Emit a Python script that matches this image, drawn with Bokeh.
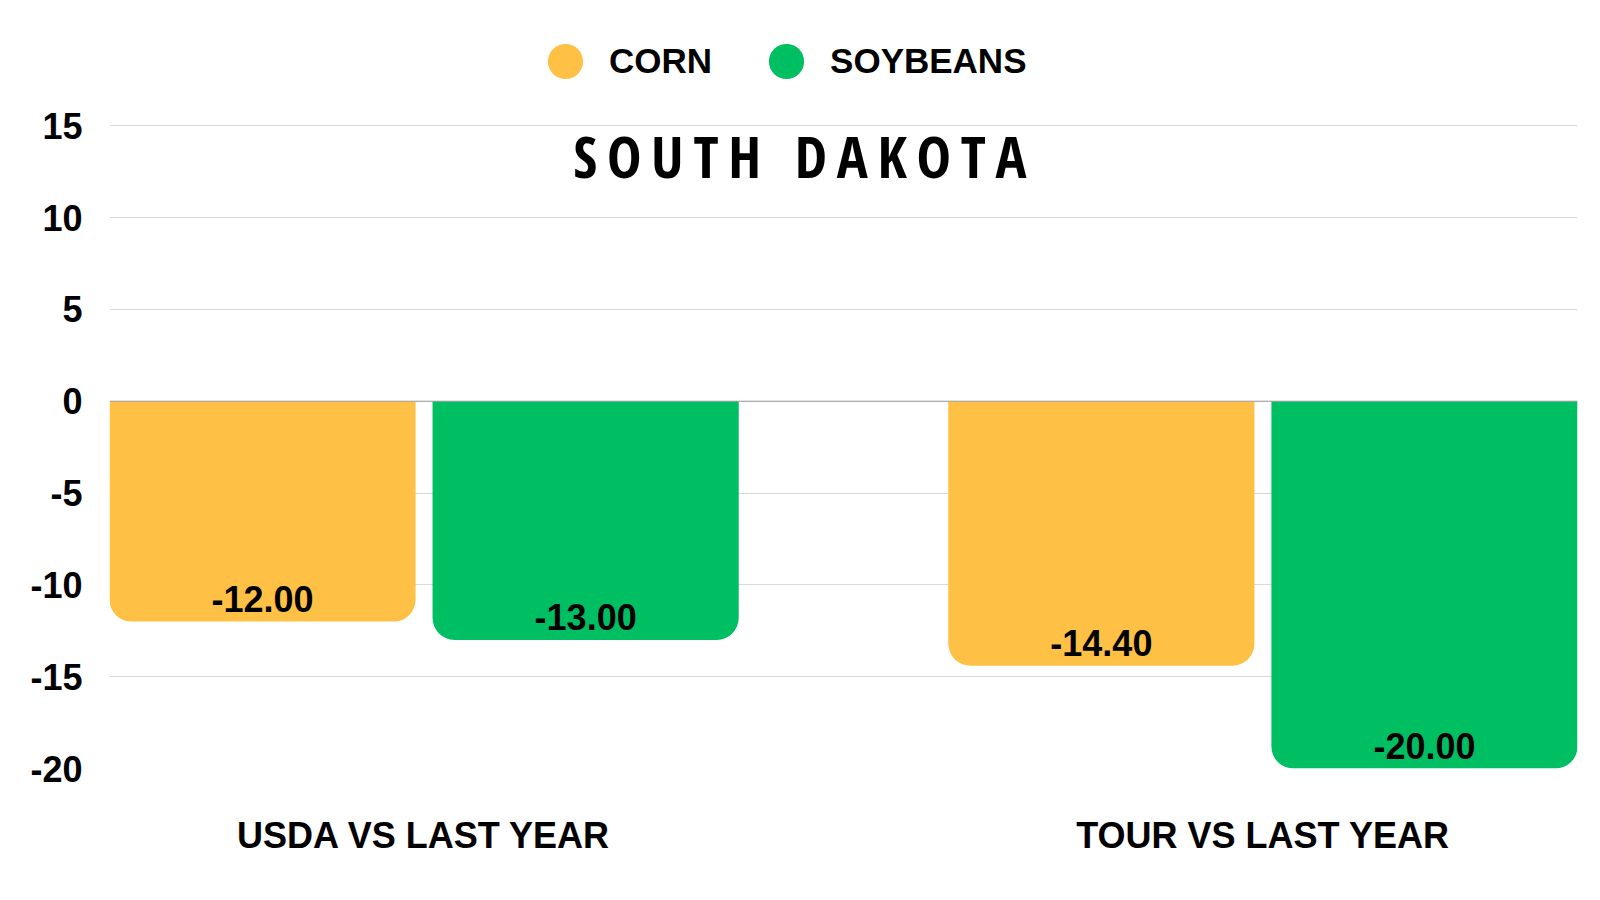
import numpy as np
from bokeh.plotting import figure
from bokeh.models import (ColumnDataSource, Range1d, FixedTicker, Span, Label,
                          Legend, LegendItem)
from bokeh.core.properties import value
from bokeh.embed import file_html
from bokeh.resources import INLINE

# ---- data ----
categories = ["USDA VS LAST YEAR", "TOUR VS LAST YEAR"]
corn = [-12.00, -14.40]
soybeans = [-13.00, -20.00]
series_names = ["CORN", "SOYBEANS"]
y_ticks = [-20, -15, -10, -5, 0, 5, 10, 15]
title_text = "SOUTH DAKOTA"

CORN_COLOR = "#FFC145"
SOY_COLOR = "#00BF63"
FONT = "Liberation Sans"
TITLE_FONT = "'Open Sans Condensed', 'Roboto Condensed', 'DejaVu Sans Condensed', Roboto, sans-serif"

centers = np.arange(len(categories)) + 0.5
offset = 0.1926
bar_w = 0.365

p = figure(width=1584, height=884, output_backend="svg", toolbar_location=None,
           x_range=Range1d(0.125, 1.875), y_range=Range1d(-20, 21.82),
           min_border_left=109, min_border_right=7, min_border_top=0,
           min_border_bottom=116)
p.outline_line_color = None
p.background_fill_color = "white"
p.border_fill_color = "white"

corn_src = ColumnDataSource(dict(x=centers - offset, top=[0] * len(corn), bottom=corn,
                                 label=[f"{v:.2f}" for v in corn]))
soy_src = ColumnDataSource(dict(x=centers + offset, top=[0] * len(soybeans), bottom=soybeans,
                                label=[f"{v:.2f}" for v in soybeans]))

p.vbar(x="x", top="top", bottom="bottom", width=bar_w, source=corn_src,
       fill_color=CORN_COLOR, line_color=None, border_radius=(0, 0, 22, 22))
p.vbar(x="x", top="top", bottom="bottom", width=bar_w, source=soy_src,
       fill_color=SOY_COLOR, line_color=None, border_radius=(0, 0, 22, 22))

for src in (corn_src, soy_src):
    p.text(x="x", y="bottom", text="label", source=src, y_offset=-23,
           text_align="center", text_baseline="middle",
           text_font=value(FONT), text_font_style="bold", text_font_size="36px",
           text_color="black")

# zero line
p.add_layout(Span(location=0, dimension="width", line_color="#9e9e9e", line_width=1))

# axes
p.yaxis.ticker = FixedTicker(ticks=y_ticks)
p.yaxis.major_label_overrides = {t: str(t) for t in y_ticks}
p.yaxis.axis_line_color = None
p.yaxis.major_tick_line_color = None
p.yaxis.minor_tick_line_color = None
p.yaxis.major_label_text_font = FONT
p.yaxis.major_label_text_font_style = "bold"
p.yaxis.major_label_text_font_size = "36px"
p.yaxis.major_label_text_color = "black"
p.yaxis.major_label_standoff = 21

p.xaxis.ticker = FixedTicker(ticks=list(centers))
p.xaxis.major_label_overrides = {float(c): lab for c, lab in zip(centers, categories)}
p.xaxis.axis_line_color = None
p.xaxis.major_tick_line_color = None
p.xaxis.minor_tick_line_color = None
p.xaxis.major_label_text_font = FONT
p.xaxis.major_label_text_font_style = "bold"
p.xaxis.major_label_text_font_size = "36px"
p.xaxis.major_label_text_color = "black"
p.xaxis.major_label_standoff = 40

p.xgrid.grid_line_color = None
p.ygrid.grid_line_color = "#d9d9d9"
p.ygrid.grid_line_width = 1

# title inside plot area (letter-spaced, condensed)
spaced_title = "\u2006".join(list(title_text))
p.add_layout(Label(x=0.948, y=13.4, text=spaced_title,
                   text_align="center", text_baseline="alphabetic",
                   text_font=TITLE_FONT,
                   text_font_style="bold", text_font_size="58px", text_color="black"))

# legend (size-0 markers so only the legend glyph shows)
r_corn = p.scatter(x="x", y="bottom", source=corn_src, size=0, marker="circle",
                   fill_color=CORN_COLOR, line_color=None)
r_soy = p.scatter(x="x", y="bottom", source=soy_src, size=0, marker="circle",
                  fill_color=SOY_COLOR, line_color=None)
legend = Legend(items=[LegendItem(label=series_names[0], renderers=[r_corn], index=0),
                       LegendItem(label=series_names[1], renderers=[r_soy], index=0)],
                orientation="horizontal", location=(412, 663),
                glyph_width=88, glyph_height=88, label_standoff=0, spacing=30,
                padding=0, margin=0, border_line_color=None,
                background_fill_alpha=0,
                label_text_font=FONT, label_text_font_style="bold",
                label_text_font_size="35px", label_text_color="black",
                label_text_baseline="middle")
p.add_layout(legend, "center")

open("out.html", "w").write(file_html(p, INLINE))
